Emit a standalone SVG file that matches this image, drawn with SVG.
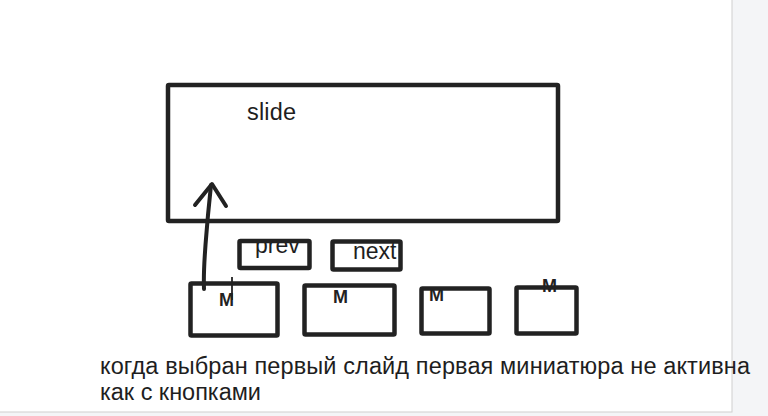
<svg xmlns="http://www.w3.org/2000/svg" width="768" height="416" viewBox="0 0 768 416">
<style>
.box{fill:none;stroke:#222;stroke-width:4.5;stroke-linejoin:round}
.t{font-family:"Liberation Sans",Arial,sans-serif;fill:#1e1e1e}
.m{font-family:"Liberation Sans",Arial,sans-serif;font-weight:bold;font-size:18px;fill:#222}
.ink{fill:none;stroke:#222;stroke-width:4;stroke-linecap:round;stroke-linejoin:round}
</style>
<rect x="0" y="0" width="768" height="416" fill="#f4f5f7"/>
<rect x="-1" y="-1" width="733" height="413" fill="#fff" stroke="#cfcfcf" stroke-width="1"/>
<g id="slide">
<rect class="box" x="168" y="85" width="390" height="136" rx="1"/>
<text class="t" x="247" y="120" font-size="23.5" textLength="49">slide</text>
</g>
<g id="prev">
<text class="t" x="255" y="253" font-size="23">prev</text>
<rect class="box" x="239.5" y="241" width="70" height="27" rx="1" fill="none"/>
</g>
<g id="next">
<text class="t" x="353" y="259" font-size="23">next</text>
<rect class="box" x="332.5" y="241.5" width="68" height="28" rx="1"/>
</g>
<g id="thumb1">
<rect class="box" x="190.5" y="283.5" width="87" height="52" rx="1"/>
<text class="m" x="219" y="306">M</text>
<line x1="232" y1="277" x2="232" y2="300" stroke="#222" stroke-width="1.8"/>
</g>
<g id="thumb2">
<rect class="box" x="304.5" y="285.5" width="90" height="49" rx="1"/>
<text class="m" x="333" y="303">M</text>
</g>
<g id="thumb3">
<text class="m" x="429" y="301">M</text>
<rect class="box" x="421.5" y="288.5" width="68" height="45" rx="1"/>
</g>
<g id="thumb4">
<text class="m" x="542" y="292">M</text>
<rect class="box" x="516.5" y="287.5" width="60" height="46" rx="1"/>
</g>
<g id="connectors">
<path class="ink" d="M204 289 C203 265 206 240 208 215 L211 185"/>
<path class="ink" d="M195 205 L212 184 L226 206"/>
</g>
<g id="note">
<text class="t" x="100" y="374" font-size="23.5" textLength="650" lengthAdjust="spacing">когда выбран первый слайд первая миниатюра не активна</text>
<text class="t" x="100" y="400" font-size="23.5" textLength="161" lengthAdjust="spacing">как с кнопками</text>
</g>
</svg>
